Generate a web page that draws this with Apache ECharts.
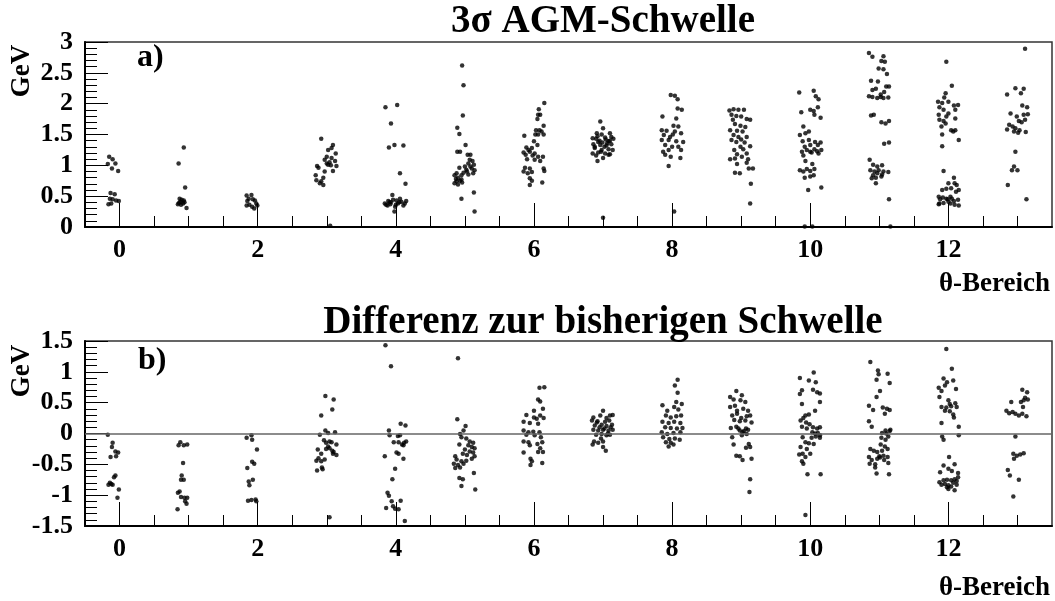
<!DOCTYPE html>
<html>
<head>
<meta charset="utf-8">
<title>3σ AGM-Schwelle</title>
<script src="https://cdn.jsdelivr.net/npm/echarts@6.0.0/dist/echarts.min.js"></script>
<style>
  html, body { margin: 0; padding: 0; background: #fff; }
  #chart { width: 1055px; height: 601px; }
</style>
</head>
<body>
<div id="chart"></div>
<script>
// tick positions / labels
const xMajorTicks = [0, 2, 4, 6, 8, 10, 12];
const xMinorTicks = [0.5, 1, 1.5, 2.5, 3, 3.5, 4.5, 5, 5.5, 6.5, 7, 7.5, 8.5, 9, 9.5, 10.5, 11, 11.5, 12.5, 13];

// a) 3 sigma AGM threshold per theta bin [theta, GeV]
const a0 = [[-0.15,1.14],[-0.10,1.10],[-0.17,1.02],[-0.06,1.03],[-0.11,0.95],[-0.02,0.91],[-0.13,0.55],[-0.07,0.53],[-0.14,0.46],[-0.10,0.45],[-0.05,0.43],[-0.01,0.42],[-0.16,0.37],[-0.12,0.38]];
const a1 = [[0.93,1.29],[0.855,1.03],[0.95,0.64],[0.87,0.46],[0.90,0.44],[0.88,0.41],[0.845,0.37],[0.92,0.38],[0.94,0.40],[0.89,0.36],[0.97,0.31],[0.93,0.43],[0.86,0.39]];
const a2 = [[1.84,0.51],[1.91,0.52],[1.87,0.46],[1.93,0.45],[1.96,0.43],[1.85,0.42],[1.98,0.38],[1.88,0.36],[1.92,0.33],[1.84,0.35],[1.995,0.35],[1.95,0.30]];
const a3 = [[2.92,1.43],[3.09,1.33],[3.07,1.28],[3.02,1.25],[3.13,1.19],[3.00,1.14],[3.07,1.12],[2.97,1.09],[3.12,1.07],[3.04,1.05],[2.86,0.99],[2.88,0.96],[3.14,0.99],[3.02,1.01],[3.09,0.91],[2.97,0.90],[2.84,0.84],[2.95,0.80],[2.85,0.76],[2.92,0.74],[2.90,0.71],[2.95,0.68],[3.06,1.00],[3.00,1.03],[3.05,0.02]];
const a4 = [[3.85,1.94],[4.02,1.98],[3.93,1.68],[3.90,1.29],[3.98,1.33],[4.11,1.32],[4.06,0.87],[4.14,0.70],[3.95,0.52],[3.89,0.42],[3.84,0.38],[3.91,0.40],[3.96,0.44],[4.01,0.43],[4.06,0.46],[4.08,0.41],[4.13,0.38],[4.11,0.35],[3.99,0.33],[3.98,0.25],[3.86,0.36],[4.03,0.38],[3.92,0.37],[4.15,0.42],[3.93,0.40],[4.00,0.36],[4.05,0.40],[3.88,0.35]];
const a5 = [[4.96,2.62],[4.98,2.30],[4.97,1.81],[4.89,1.61],[4.92,1.51],[5.01,1.33],[4.89,1.22],[4.93,1.22],[5.04,1.17],[5.08,1.17],[5.07,1.09],[5.11,1.07],[5.05,1.03],[5.13,1.01],[5.00,0.98],[4.92,0.96],[5.10,0.95],[5.14,0.92],[4.88,0.87],[5.03,0.90],[4.95,0.84],[4.85,0.84],[5.12,0.87],[5.05,0.85],[4.87,0.78],[4.93,0.75],[4.85,0.71],[4.90,0.69],[4.96,0.72],[5.13,0.56],[4.95,0.46],[5.14,0.25],[4.90,0.80],[4.98,0.88],[5.08,0.98],[5.02,0.93],[4.88,0.74],[4.95,0.77]];
const a6 = [[6.15,2.01],[6.07,1.91],[6.06,1.82],[6.09,1.82],[6.05,1.75],[6.14,1.64],[6.03,1.57],[6.08,1.57],[6.11,1.55],[6.02,1.50],[6.06,1.50],[6.14,1.50],[5.86,1.48],[6.00,1.39],[6.05,1.33],[5.89,1.29],[5.97,1.28],[5.92,1.25],[5.85,1.21],[5.94,1.22],[6.01,1.19],[5.88,1.17],[5.98,1.16],[6.06,1.14],[6.13,1.14],[5.90,1.10],[6.01,1.09],[6.09,1.07],[5.87,0.96],[5.94,0.95],[6.14,0.95],[5.85,0.90],[5.91,0.87],[5.97,0.89],[6.15,0.91],[5.94,0.79],[5.97,0.75],[5.94,0.68],[6.12,0.72]];
const a7 = [[6.96,1.71],[7.00,1.60],[6.91,1.52],[6.98,1.50],[7.10,1.52],[6.85,1.44],[6.90,1.43],[7.03,1.45],[7.12,1.46],[6.93,1.38],[6.99,1.37],[7.08,1.39],[7.15,1.43],[6.86,1.34],[6.96,1.33],[7.05,1.32],[7.12,1.34],[6.88,1.28],[6.98,1.25],[7.08,1.26],[7.14,1.25],[6.85,1.19],[6.93,1.21],[7.03,1.19],[7.10,1.18],[6.90,1.16],[7.00,1.12],[7.08,1.17],[6.92,1.07],[7.00,0.15],[6.95,1.40],[7.02,1.30],[6.97,1.22],[7.06,1.36],[6.88,1.30],[7.10,1.40],[6.92,1.47],[7.04,1.42]];
const a8 = [[7.98,2.14],[8.04,2.13],[8.08,2.07],[8.08,1.92],[8.14,1.90],[7.86,1.79],[8.06,1.76],[8.02,1.64],[8.09,1.63],[7.85,1.57],[7.92,1.56],[8.04,1.55],[8.13,1.52],[7.88,1.49],[7.97,1.46],[8.01,1.50],[7.85,1.41],[7.95,1.41],[8.06,1.39],[8.16,1.38],[7.90,1.33],[8.00,1.30],[8.09,1.30],[7.87,1.22],[7.95,1.25],[8.13,1.25],[7.90,1.17],[7.98,1.14],[8.12,1.12],[7.95,0.99],[8.03,0.25]];
const a9 = [[8.83,1.89],[8.89,1.91],[8.96,1.90],[9.04,1.90],[8.86,1.82],[8.93,1.80],[9.00,1.79],[9.08,1.75],[9.13,1.74],[8.88,1.74],[8.91,1.67],[8.99,1.64],[9.06,1.62],[8.84,1.57],[8.94,1.56],[9.02,1.55],[8.89,1.49],[8.96,1.46],[9.08,1.46],[8.86,1.41],[9.00,1.42],[8.93,1.38],[9.05,1.37],[9.13,1.31],[8.99,1.30],[9.03,1.26],[8.90,1.25],[8.94,1.18],[9.08,1.19],[8.84,1.10],[8.91,1.11],[9.01,1.14],[9.10,1.10],[8.94,1.02],[9.08,1.04],[8.91,0.88],[8.98,0.87],[9.11,0.95],[9.17,0.95],[9.14,0.70],[9.13,0.38]];
const a10 = [[9.84,2.18],[10.05,2.21],[10.08,2.12],[10.12,2.07],[9.87,1.86],[10.00,1.90],[10.05,1.88],[10.11,1.94],[10.06,1.82],[10.15,1.77],[9.90,1.63],[9.85,1.49],[9.93,1.52],[9.98,1.55],[9.89,1.39],[9.98,1.41],[10.07,1.38],[9.92,1.30],[10.00,1.33],[10.11,1.33],[10.15,1.37],[9.88,1.22],[9.95,1.25],[10.06,1.26],[10.00,1.22],[10.10,1.23],[10.16,1.25],[9.90,1.16],[10.02,1.21],[10.12,1.19],[9.93,1.07],[10.03,1.02],[9.85,0.92],[9.90,0.90],[9.95,0.94],[10.00,0.91],[10.06,0.94],[9.92,0.80],[10.00,0.82],[10.05,0.84],[9.97,0.60],[10.16,0.64],[9.92,0.01],[10.03,0.01]];
const a11 = [[10.85,2.82],[10.90,2.76],[11.06,2.77],[11.03,2.69],[11.08,2.68],[10.99,2.57],[11.06,2.56],[11.11,2.48],[10.88,2.37],[10.98,2.36],[10.90,2.22],[10.95,2.24],[11.10,2.28],[11.14,2.28],[11.07,2.19],[10.85,2.12],[10.90,2.11],[10.97,2.09],[11.02,2.11],[11.06,2.09],[11.13,2.10],[11.02,2.15],[10.88,1.81],[10.92,1.82],[11.03,1.70],[11.09,1.68],[11.14,1.72],[11.07,1.35],[11.14,1.37],[10.86,1.09],[10.91,1.01],[10.97,0.98],[11.04,1.00],[10.87,0.92],[10.93,0.90],[10.99,0.92],[11.06,0.90],[11.13,0.89],[10.91,0.84],[10.97,0.87],[11.04,0.85],[10.89,0.79],[10.95,0.80],[11.03,0.82],[10.95,0.71],[11.14,0.45],[11.16,0.01]];
const a12 = [[11.97,2.68],[12.05,2.29],[11.96,2.17],[11.94,2.10],[11.85,2.03],[11.91,2.01],[12.00,2.03],[11.87,1.94],[11.93,1.90],[12.08,1.97],[12.14,1.98],[12.10,1.90],[11.86,1.82],[11.97,1.79],[12.00,1.84],[11.87,1.74],[11.93,1.72],[12.10,1.76],[11.96,1.68],[11.90,1.63],[12.04,1.57],[12.10,1.57],[12.07,1.55],[11.91,1.50],[12.15,1.41],[11.91,1.31],[11.93,0.91],[12.08,0.80],[12.00,0.71],[11.91,0.60],[11.97,0.62],[12.04,0.63],[12.12,0.68],[12.09,0.71],[11.86,0.49],[11.92,0.48],[11.97,0.46],[12.03,0.49],[12.11,0.57],[12.15,0.60],[11.87,0.38],[11.93,0.39],[12.00,0.41],[12.08,0.42],[12.14,0.44],[11.88,0.45],[11.99,0.45],[12.05,0.46],[12.03,0.38],[12.09,0.36],[12.15,0.35],[11.86,0.37]];
const a13 = [[13.11,2.89],[12.85,2.15],[12.97,2.25],[13.05,2.17],[13.09,2.24],[13.07,1.97],[13.14,1.94],[12.90,1.84],[12.99,1.79],[13.09,1.82],[13.15,1.83],[13.02,1.72],[13.06,1.70],[13.11,1.74],[12.88,1.66],[12.93,1.63],[12.97,1.60],[13.03,1.57],[12.85,1.58],[12.95,1.55],[13.01,1.53],[13.12,1.54],[12.97,1.22],[12.95,0.98],[12.92,0.92],[13.00,0.92],[12.86,0.68],[13.13,0.45]];

// b) difference to previous threshold [theta, GeV]
const b0 = [[-0.17,-0.02],[-0.10,-0.15],[-0.11,-0.22],[-0.06,-0.29],[-0.02,-0.31],[-0.05,-0.37],[-0.13,-0.38],[-0.06,-0.68],[-0.08,-0.71],[-0.14,-0.80],[-0.12,-0.82],[-0.10,-0.83],[-0.16,-0.83],[-0.01,-0.91],[-0.03,-1.04]];
const b1 = [[0.88,-0.14],[0.93,-0.19],[0.98,-0.18],[0.855,-0.19],[0.92,-0.48],[0.90,-0.68],[0.89,-0.75],[0.93,-0.75],[0.87,-0.94],[0.845,-0.96],[0.89,-1.03],[0.94,-1.04],[0.98,-1.04],[0.95,-1.10],[0.97,-1.14],[0.84,-1.23]];
const b2 = [[1.84,-0.07],[1.91,-0.03],[1.92,-0.10],[1.99,-0.26],[1.92,-0.46],[1.95,-0.49],[1.85,-0.56],[1.87,-0.78],[1.93,-0.75],[1.88,-0.84],[1.86,-1.09],[1.91,-1.08],[1.97,-1.07],[1.98,-1.10]];
const b3 = [[2.98,0.61],[3.10,0.55],[3.08,0.39],[2.92,0.29],[2.90,-0.02],[2.98,0.05],[3.02,0.01],[3.12,0.02],[2.96,-0.11],[2.99,-0.15],[3.04,-0.13],[3.07,-0.14],[3.14,-0.18],[3.02,-0.21],[3.04,-0.24],[2.99,-0.25],[3.08,-0.28],[2.87,-0.26],[2.92,-0.33],[3.09,-0.33],[3.14,-0.35],[3.10,-0.30],[2.85,-0.44],[2.88,-0.40],[2.92,-0.45],[2.97,-0.42],[2.86,-0.60],[2.94,-0.58],[2.93,-0.55],[3.04,-1.36]];
const b4 = [[3.85,1.43],[3.93,1.09],[3.90,0.05],[4.07,0.16],[4.14,0.13],[3.84,-0.37],[3.91,-0.03],[4.03,-0.04],[4.06,-0.03],[3.97,-0.14],[4.04,-0.14],[4.12,-0.15],[4.15,-0.13],[4.11,-0.19],[4.09,-0.18],[4.01,-0.31],[4.04,-0.33],[4.11,-0.41],[3.99,-0.57],[3.95,-0.74],[3.88,-0.96],[3.90,-1.01],[3.94,-1.10],[4.07,-1.09],[3.86,-1.21],[3.96,-1.18],[3.99,-1.22],[4.04,-1.23],[4.13,-1.42]];
const b5 = [[4.90,1.22],[4.89,0.23],[5.01,0.12],[4.98,0.05],[4.93,-0.01],[4.95,-0.06],[5.02,-0.08],[5.07,-0.13],[5.12,-0.15],[4.92,-0.18],[5.05,-0.19],[5.10,-0.22],[5.14,-0.24],[5.00,-0.26],[5.07,-0.29],[5.12,-0.31],[4.86,-0.37],[4.97,-0.33],[5.03,-0.35],[5.14,-0.37],[4.88,-0.42],[4.95,-0.45],[5.02,-0.44],[5.10,-0.41],[4.84,-0.49],[4.90,-0.51],[4.98,-0.49],[4.86,-0.56],[4.93,-0.55],[5.13,-0.64],[4.92,-0.72],[4.97,-0.74],[4.95,-0.85],[5.15,-0.91]];
const b6 = [[6.08,0.74],[6.15,0.75],[6.06,0.55],[6.09,0.52],[6.13,0.40],[6.00,0.37],[6.09,0.29],[5.89,0.30],[6.00,0.26],[6.04,0.24],[6.14,0.25],[5.85,0.19],[5.94,0.17],[6.06,0.16],[5.85,0.05],[5.92,0.02],[5.99,0.03],[6.08,0.02],[5.89,-0.02],[6.01,-0.03],[6.10,-0.06],[5.85,-0.13],[5.92,-0.14],[6.05,-0.17],[6.12,-0.14],[5.94,-0.19],[6.09,-0.24],[5.85,-0.31],[6.06,-0.30],[6.13,-0.30],[5.95,-0.41],[5.97,-0.45],[5.95,-0.51],[6.12,-0.48]];
const b7 = [[7.00,0.37],[6.86,0.26],[6.96,0.29],[7.10,0.29],[7.14,0.30],[6.84,0.21],[6.91,0.18],[7.03,0.19],[7.09,0.21],[6.88,0.13],[6.98,0.14],[7.05,0.12],[7.13,0.14],[6.86,0.06],[6.93,0.05],[7.00,0.06],[7.08,0.05],[7.14,0.06],[6.90,-0.02],[6.98,-0.01],[7.05,-0.03],[7.10,-0.02],[6.87,-0.13],[6.93,-0.15],[7.00,-0.13],[6.85,-0.18],[7.00,-0.22],[7.04,-0.28],[6.95,0.10],[7.02,0.08],[7.07,0.00],[6.92,0.20],[7.05,0.25],[6.97,-0.08],[7.11,0.10]];
const b8 = [[8.08,0.87],[8.04,0.78],[8.08,0.66],[8.06,0.51],[8.14,0.48],[7.86,0.46],[7.93,0.37],[8.03,0.43],[8.09,0.39],[7.91,0.29],[7.98,0.26],[8.06,0.28],[8.13,0.29],[7.86,0.19],[7.95,0.17],[8.03,0.19],[8.12,0.17],[7.90,0.10],[7.98,0.09],[8.07,0.08],[8.15,0.09],[7.85,0.02],[7.93,-0.01],[8.02,0.01],[8.12,0.02],[7.87,-0.06],[7.96,-0.09],[8.04,-0.08],[7.91,-0.14],[7.98,-0.15],[8.11,-0.10],[7.95,-0.21],[8.02,-0.18]];
const b9 = [[8.93,0.69],[8.84,0.59],[8.89,0.55],[8.99,0.54],[9.01,0.62],[9.06,0.51],[8.84,0.43],[8.91,0.45],[8.94,0.37],[9.03,0.40],[9.10,0.37],[8.87,0.29],[8.94,0.32],[9.00,0.25],[9.08,0.28],[9.13,0.29],[8.90,0.22],[8.98,0.20],[9.06,0.21],[9.15,0.18],[8.85,0.09],[8.93,0.11],[8.98,0.05],[9.04,0.04],[9.10,0.06],[8.96,0.08],[9.02,0.02],[9.07,0.08],[8.87,-0.06],[9.01,-0.03],[9.08,-0.01],[8.89,-0.18],[9.11,-0.17],[9.13,-0.22],[9.07,-0.23],[8.93,-0.36],[8.98,-0.37],[9.02,-0.43],[9.15,-0.41],[9.13,-0.74],[9.12,-0.95]];
const b10 = [[9.85,0.90],[10.05,0.99],[9.98,0.86],[10.08,0.83],[10.04,0.71],[10.10,0.67],[10.14,0.65],[9.88,0.70],[9.85,0.64],[10.14,0.51],[10.07,0.37],[9.88,0.48],[9.93,0.29],[9.98,0.31],[9.90,0.25],[9.86,0.21],[9.94,0.18],[9.99,0.15],[9.88,0.11],[9.95,0.08],[10.04,0.10],[10.10,0.08],[10.14,0.10],[10.03,0.02],[10.07,0.00],[10.11,0.01],[10.14,-0.03],[9.89,-0.06],[10.02,-0.07],[10.08,-0.05],[10.14,-0.07],[9.93,-0.14],[9.98,-0.16],[10.05,-0.17],[9.86,-0.22],[9.95,-0.25],[9.84,-0.34],[9.89,-0.33],[9.93,-0.38],[10.00,-0.33],[9.88,-0.45],[9.90,-0.49],[9.96,-0.66],[10.15,-0.66],[9.93,-1.32]];
const b11 = [[10.87,1.16],[10.98,1.02],[10.99,0.96],[11.12,0.97],[10.96,0.87],[11.15,0.82],[11.01,0.69],[10.96,0.59],[10.85,0.45],[10.91,0.38],[11.11,0.40],[11.15,0.38],[11.05,0.42],[11.08,0.32],[10.85,0.20],[10.89,0.11],[11.09,0.05],[11.15,0.04],[11.04,0.01],[11.10,0.00],[11.16,0.06],[11.03,-0.07],[11.09,-0.10],[11.13,-0.05],[11.02,-0.18],[11.08,-0.21],[10.87,-0.25],[10.92,-0.28],[10.97,-0.30],[11.04,-0.28],[11.12,-0.25],[10.85,-0.38],[10.89,-0.43],[10.97,-0.41],[11.01,-0.39],[11.07,-0.43],[11.12,-0.38],[11.00,-0.37],[11.06,-0.36],[10.86,-0.49],[10.94,-0.50],[11.13,-0.48],[10.94,-0.55],[10.96,-0.65],[11.14,-0.66]];
const b12 = [[11.97,1.37],[12.05,1.05],[11.93,0.89],[11.98,0.83],[12.07,0.86],[11.86,0.74],[11.90,0.69],[12.11,0.72],[11.95,0.78],[11.87,0.59],[12.00,0.54],[12.02,0.48],[12.10,0.49],[11.90,0.43],[11.97,0.42],[12.04,0.44],[12.12,0.43],[11.95,0.37],[12.02,0.36],[12.07,0.31],[12.08,0.26],[11.90,0.17],[12.15,0.11],[11.91,-0.05],[12.15,-0.03],[11.93,-0.10],[12.01,-0.38],[11.93,-0.52],[12.09,-0.50],[12.05,-0.61],[12.00,-0.57],[11.88,-0.63],[12.14,-0.64],[11.87,-0.79],[11.93,-0.76],[11.98,-0.75],[12.04,-0.76],[12.09,-0.74],[12.14,-0.71],[11.90,-0.83],[11.95,-0.82],[12.00,-0.84],[12.07,-0.80],[12.12,-0.83],[11.98,-0.87],[12.04,-0.86],[12.09,-0.92],[12.00,-0.90],[12.12,-0.77]];
const b13 = [[13.07,0.71],[13.14,0.67],[13.11,0.58],[13.15,0.55],[13.08,0.43],[13.05,0.51],[13.09,0.54],[12.91,0.51],[12.84,0.37],[12.88,0.33],[12.93,0.35],[12.97,0.32],[13.02,0.29],[13.07,0.32],[13.13,0.28],[12.97,-0.05],[12.94,-0.33],[12.99,-0.36],[13.04,-0.34],[13.09,-0.32],[12.95,-0.41],[12.86,-0.59],[12.89,-0.68],[13.02,-0.75],[12.94,-1.02]];

const agmPoints = [].concat(a0, a1, a2, a3, a4, a5, a6, a7, a8, a9, a10, a11, a12, a13);
const diffPoints = [].concat(b0, b1, b2, b3, b4, b5, b6, b7, b8, b9, b10, b11, b12, b13);

const SERIF = "'Liberation Serif', 'Times New Roman', serif";
const chart = echarts.init(document.getElementById('chart'), null, { renderer: 'canvas' });

function labelStyle() {
    return { fontFamily: SERIF, fontWeight: 'bold', fontSize: 26, color: '#000' };
}

// main x axis: long ticks + labels
function xMain(grid) {
    return {
        type: 'value', gridIndex: grid, min: -0.5, max: 13.5, position: 'bottom',
        axisLine: { show: true, onZero: false, lineStyle: { color: '#000', width: 2 } },
        axisTick: { show: true, inside: true, length: 24, customValues: xMajorTicks, lineStyle: { color: '#000', width: 1 } },
        axisLabel: Object.assign({ show: true, margin: 10, customValues: xMajorTicks }, labelStyle()),
        splitLine: { show: false }
    };
}
// second x axis only for the short ticks
function xMinor(grid) {
    return {
        type: 'value', gridIndex: grid, min: -0.5, max: 13.5, position: 'bottom',
        axisLine: { show: false, onZero: false },
        axisTick: { show: true, inside: true, length: 11, customValues: xMinorTicks, lineStyle: { color: '#000', width: 1 } },
        axisLabel: { show: false },
        splitLine: { show: false }
    };
}
function yAxis(grid, min, max) {
    return {
        type: 'value', gridIndex: grid, min: min, max: max, interval: 0.5,
        axisLine: { show: true, onZero: false, lineStyle: { color: '#000', width: 2 } },
        axisTick: { show: true, inside: true, length: 23, lineStyle: { color: '#000', width: 1 } },
        minorTick: { show: true, splitNumber: 5, length: 12, lineStyle: { color: '#000', width: 1 } },
        axisLabel: Object.assign({ margin: 12 }, labelStyle()),
        splitLine: { show: false }
    };
}

const option = {
    backgroundColor: '#fff',
    animation: false,
    grid: [
        { left: 85, top: 42, width: 967, height: 185, show: true, borderColor: '#333', borderWidth: 1.5 },
        { left: 85, top: 341, width: 967, height: 185, show: true, borderColor: '#333', borderWidth: 1.5 }
    ],
    xAxis: [xMain(0), xMinor(0), xMain(1), xMinor(1)],
    yAxis: [yAxis(0, 0, 3), yAxis(1, -1.5, 1.5)],
    series: [
        {
            name: 'AGM-Schwelle', type: 'scatter', xAxisIndex: 0, yAxisIndex: 0,
            data: agmPoints, symbolSize: 4.5, itemStyle: { color: '#000' }, silent: true
        },
        {
            name: 'Differenz', type: 'scatter', xAxisIndex: 2, yAxisIndex: 1,
            data: diffPoints, symbolSize: 4.5, itemStyle: { color: '#000' }, silent: true,
            markLine: {
                silent: true, symbol: 'none', label: { show: false },
                lineStyle: { color: '#666', width: 1.5, type: 'solid' },
                data: [{ yAxis: 0 }]
            }
        }
    ],
    graphic: [
        { type: 'text', x: 603, y: 22, style: { text: '3σ AGM-Schwelle', font: 'bold 39px ' + SERIF, fill: '#000', align: 'center', verticalAlign: 'middle' } },
        { type: 'text', x: 603, y: 323, style: { text: 'Differenz zur bisherigen Schwelle', font: 'bold 39px ' + SERIF, fill: '#000', align: 'center', verticalAlign: 'middle' } },
        { type: 'text', x: 137, y: 58, style: { text: 'a)', font: 'bold 32px ' + SERIF, fill: '#000', align: 'left', verticalAlign: 'middle' } },
        { type: 'text', x: 138, y: 361, style: { text: 'b)', font: 'bold 32px ' + SERIF, fill: '#000', align: 'left', verticalAlign: 'middle' } },
        { type: 'text', x: 22, y: 71, rotation: Math.PI / 2, style: { text: 'GeV', font: 'bold 27px ' + SERIF, fill: '#000', align: 'center', verticalAlign: 'middle' } },
        { type: 'text', x: 22, y: 371, rotation: Math.PI / 2, style: { text: 'GeV', font: 'bold 27px ' + SERIF, fill: '#000', align: 'center', verticalAlign: 'middle' } },
        { type: 'text', x: 1050, y: 284, style: { text: 'θ-Bereich', font: 'bold 27px ' + SERIF, fill: '#000', align: 'right', verticalAlign: 'middle' } },
        { type: 'text', x: 1050, y: 588, style: { text: 'θ-Bereich', font: 'bold 27px ' + SERIF, fill: '#000', align: 'right', verticalAlign: 'middle' } }
    ]
};

chart.setOption(option);
</script>
</body>
</html>
